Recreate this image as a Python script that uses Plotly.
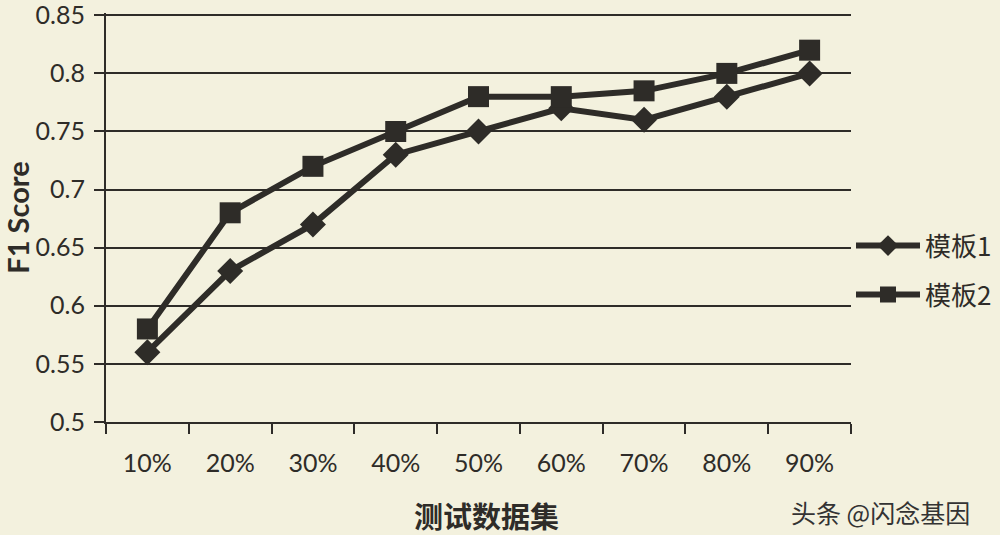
import plotly.graph_objects as go

# data
categories = ["10%", "20%", "30%", "40%", "50%", "60%", "70%", "80%", "90%"]
template1 = [0.56, 0.63, 0.67, 0.73, 0.75, 0.77, 0.76, 0.78, 0.80]
template2 = [0.58, 0.68, 0.72, 0.75, 0.78, 0.78, 0.785, 0.80, 0.82]
y_ticks = [0.5, 0.55, 0.6, 0.65, 0.7, 0.75, 0.8, 0.85]
y_labels = ["0.5", "0.55", "0.6", "0.65", "0.7", "0.75", "0.8", "0.85"]

ink = "#2e2c28"
paper = "#f3f1de"
font_main = "Lato, 'Noto Sans', sans-serif"
font_cjk = "'Noto Sans CJK SC', sans-serif"

fig = go.Figure()

fig.add_trace(go.Scatter(
    x=categories, y=template1, name="模板1", mode="lines+markers",
    legendgroup="a",
    line=dict(color=ink, width=6),
    marker=dict(symbol="diamond", size=20, color=ink),
))
fig.add_trace(go.Scatter(
    x=categories, y=template2, name="模板2", mode="lines+markers",
    legendgroup="b",
    line=dict(color=ink, width=6),
    marker=dict(symbol="square", size=21, color=ink),
))

# legend placed against the container so it does not push the right margin
fig.update_layout(
    width=1000, height=535,
    margin=dict(l=106, r=137, t=13, b=113),
    paper_bgcolor=paper, plot_bgcolor=paper,
    font=dict(family=font_main, size=25, color=ink),
    showlegend=True,
    legend=dict(
        xref="container", yref="container",
        x=0.851, y=0.495, xanchor="left", yanchor="middle",
        bgcolor="rgba(0,0,0,0)", traceorder="grouped", tracegroupgap=12,
        itemwidth=64,
        font=dict(family=font_cjk, size=26, color=ink),
    ),
)

fig.update_xaxes(
    type="category", range=[-0.5, len(categories) - 0.5],
    tickson="boundaries", ticks="outside",
    ticklen=10, tickwidth=2, tickcolor=ink, ticklabelstandoff=18,
    showgrid=False, showline=True, linecolor=ink, linewidth=2,
    automargin=False,
    tickfont=dict(family=font_main, size=25, color=ink),
)
# range top a hair above 0.85 so the top grid line is still drawn
fig.update_yaxes(
    range=[0.4999, 0.852], tickvals=y_ticks, ticktext=y_labels,
    ticks="outside", ticklen=10, tickwidth=2, tickcolor=ink,
    ticklabelstandoff=4, ticklabeloverflow="allow",
    showgrid=True, gridcolor=ink, gridwidth=2,
    showline=True, linecolor=ink, linewidth=2, zeroline=False,
    automargin=False,
    tickfont=dict(family=font_main, size=25, color=ink),
    title=dict(text="<b>F1 Score</b>", standoff=0,
               font=dict(family=font_main, size=29, color=ink)),
)

# x axis title as an annotation so it is not squeezed by the margin
fig.add_annotation(
    text="<b>测试数据集</b>", xref="paper", yref="paper",
    x=0.511, y=-0.2285, xanchor="center", yanchor="middle", showarrow=False,
    font=dict(family=font_cjk, size=29, color=ink),
)
fig.add_annotation(
    text="头条 @闪念基因", xref="paper", yref="paper",
    x=1.163, y=-0.221, xanchor="right", yanchor="middle", showarrow=False,
    font=dict(family=font_cjk, size=25, color="#333333"),
)

# drop the default 8px body margin so the figure fills the window
fig.write_html("out.html", config={"displayModeBar": False},
               post_script="document.body.style.margin='0';")
